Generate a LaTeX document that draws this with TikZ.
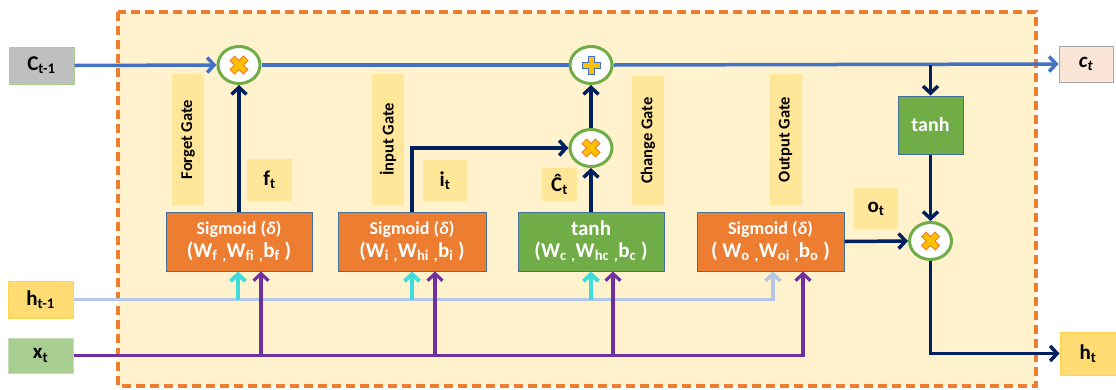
\documentclass[tikz,border=0pt]{standalone}
\usepackage{fontspec}
\setmainfont{Carlito}
\usetikzlibrary{arrows.meta,shapes.geometric}

\definecolor{frameC}{HTML}{ED7D31}
\definecolor{bgC}{HTML}{FFF2CC}
\definecolor{tagC}{HTML}{FFE699}
\definecolor{gateC}{HTML}{ED7D31}
\definecolor{gateB}{HTML}{41719C}
\definecolor{tanhC}{HTML}{70AD47}
\definecolor{navyC}{HTML}{002060}
\definecolor{cellC}{HTML}{4472C4}
\definecolor{hidC}{HTML}{B4C7E7}
\definecolor{cyC}{HTML}{3FDCDC}
\definecolor{purC}{HTML}{7030A0}
\definecolor{ringC}{HTML}{70AD47}
\definecolor{markC}{HTML}{FFC000}

\newcommand\sbs[1]{\textsubscript{#1}}
\newcommand\bigline{\fontsize{21}{23}\selectfont}

\tikzset{
  tip/.style={-{Straight Barb[length=7pt,width=15pt]}},
  frame/.style={draw=frameC, line width=3.5pt, dash pattern=on 9pt off 5pt, fill=bgC},
  gatebox/.style={draw=gateB, line width=1pt, fill=gateC, text=white, font=\bfseries\fontsize{18}{20}\selectfont,
    minimum width=146pt, minimum height=59pt, align=center, inner sep=0pt},
  tanhbox/.style={gatebox, fill=tanhC},
  tagbox/.style={fill=tagC, inner sep=0pt, font=\bfseries\fontsize{21}{23}\selectfont},
  gatetag/.style={fill=tagC, inner sep=0pt, minimum width=131pt, minimum height=32pt, rotate=90,
    font=\bfseries\fontsize{16.5}{18}\selectfont},
  iobox/.style={line width=1pt, inner sep=0pt, font=\bfseries\fontsize{21}{23}\selectfont},
  opring/.style={ellipse, draw=ringC, line width=3pt, fill=white, minimum width=42pt, minimum height=37pt, inner sep=0pt},
  cline/.style={draw=cellC, line width=3.5pt},
  nline/.style={draw=navyC, line width=3.5pt},
  hl/.style={draw=hidC, line width=3.5pt},
  cyl/.style={draw=cyC, line width=4pt},
  xl/.style={draw=purC, line width=3.2pt},
  crossmark/.pic={
    \filldraw[fill=markC, draw=frameC, line width=0.8pt, rotate=45]
      (3.2,9.5)--(3.2,3.2)--(9.5,3.2)--(9.5,-3.2)--(3.2,-3.2)--(3.2,-9.5)--(-3.2,-9.5)--(-3.2,-3.2)
      --(-9.5,-3.2)--(-9.5,3.2)--(-3.2,3.2)--(-3.2,9.5)--cycle;
  },
  plusmark/.pic={
    \filldraw[fill=markC, draw=cellC, line width=0.8pt]
      (3,9)--(3,3)--(9,3)--(9,-3)--(3,-3)--(3,-9)--(-3,-9)--(-3,-3)
      --(-9,-3)--(-9,3)--(-3,3)--(-3,9)--cycle;
  },
}

\begin{document}
\begin{tikzpicture}[x=1pt,y=-1pt]
\useasboundingbox (0,0) rectangle (1116,389);

% cell boundary
\draw[frame] (118,12) rectangle (1036,386);

% inputs and outputs
\node[iobox, draw=tanhC!60, fill=black!25, minimum width=65pt, minimum height=37pt] (cprev) at (41.5,65.5) {C\sbs{t-1}};
\node[iobox, draw=markC!70, fill=markC!55, minimum width=65pt, minimum height=37pt] (hprev) at (40.5,299.5) {h\sbs{t-1}};
\node[iobox, draw=tanhC!40, fill=tanhC!60, minimum width=65pt, minimum height=35pt] (xt) at (40.5,355.5) {x\sbs{t}};
\node[iobox, draw=black!35, fill=frameC!20, minimum width=54pt, minimum height=36pt] (ct) at (1086,64) {\textit{c\sbs{t}}};
\node[iobox, draw=markC!70, fill=markC!55, minimum width=56pt, minimum height=43pt] (ht) at (1088,353.5) {h\sbs{t}};

% gate labels
\node[gatetag] (lf) at (188,139.5) {Forget Gate};
\node[gatetag] (li) at (388,139.5) {İnput Gate};
\node[gatetag, minimum width=129pt] (lc) at (648,140.5) {Change Gate};
\node[gatetag] (lo) at (785.5,139.5) {Output Gate};

\node[tagbox, minimum width=45pt, minimum height=42pt] (tf) at (269.5,180) {f\sbs{t}};
\node[tagbox, minimum width=44pt, minimum height=41pt] (ti) at (445,180.5) {i\sbs{t}};
\node[tagbox, minimum width=35pt, minimum height=33pt] (tc) at (559.5,184.5) {\^{C}\sbs{t}};
\node[tagbox, minimum width=44pt, minimum height=41pt] (to) at (876,208.5) {o\sbs{t}};

% gate blocks
\node[gatebox] (fs) at (239,241.5) {Sigmoid (\textit{δ})\\[3pt]{\bigline (W\sbs{f} \sbs{,}W\sbs{fi} \sbs{,}b\sbs{f} )}};
\node[gatebox, minimum width=148pt] (is) at (412,241.5) {Sigmoid (\textit{δ})\\[3pt]{\bigline (W\sbs{i} \sbs{,}W\sbs{hi} \sbs{,}b\sbs{i} )}};
\node[tanhbox] (cs) at (591,241.5) {{\bigline tanh}\\[2pt]{\bigline (W\sbs{c} \sbs{,}W\sbs{hc} \sbs{,}b\sbs{c} )}};
\node[gatebox, minimum width=147pt] (os) at (770.5,241.5) {Sigmoid (\textit{δ})\\[3pt]{\bigline ( W\sbs{o} \sbs{,}W\sbs{oi} \sbs{,}b\sbs{o} )}};
\node[tanhbox, minimum width=65pt, minimum height=58pt, font=\bfseries\fontsize{20}{22}\selectfont] (th) at (930.5,125) {tanh};

% pointwise operators
\node[opring] (fc) at (239,65) {};
\node[opring] (pc) at (591,65) {};
\node[opring] (mc) at (591,148) {};
\node[opring] (om) at (930.5,241) {};
\pic at (fc) {crossmark};
\pic at (pc) {plusmark};
\pic at (mc) {crossmark};
\pic at (om) {crossmark};

% cell state
\draw[cline, tip] (cprev.east) -- (fc.west);
\draw[cline] (fc.east) -- (pc.west);
\draw[cline, tip] (pc.east) -- (ct.west);

% gate outputs
\draw[nline, tip] (fs.north) -- (fc.south);
\draw[nline, tip] (is.north) |- (mc.west);
\draw[nline, tip] (cs.north) -- (mc.south);
\draw[nline, tip] (mc.north) -- (pc.south);
\coordinate (tap) at (th.north |- pc);
\draw[nline, tip] (tap) -- (th.north);
\draw[nline, tip] (th.south) -- (om.north);
\draw[nline, tip] (os.east) -- (om.west);
\draw[nline, tip] (om.south) |- (ht.west);

% previous hidden state
\coordinate (fh) at ([xshift=-1pt]fs.south);
\coordinate (ih) at (is.south);
\coordinate (ch) at (cs.south);
\coordinate (oh) at ([xshift=2.5pt]os.south);
\draw[hl, tip] (hprev.east) -| (oh);
\draw[cyl, tip] (fh |- hprev) -- (fh);
\draw[cyl, tip] (ih |- hprev) -- (ih);
\draw[cyl, tip] (ch |- hprev) -- (ch);

% current input
\coordinate (fx) at ([xshift=22pt]fs.south);
\coordinate (ix) at ([xshift=23pt]is.south);
\coordinate (cx) at ([xshift=22pt]cs.south);
\coordinate (ox) at ([xshift=32.5pt]os.south);
\draw[xl, tip] (xt.east) -| (ox);
\draw[xl, tip] (fx |- xt) -- (fx);
\draw[xl, tip] (ix |- xt) -- (ix);
\draw[xl, tip] (cx |- xt) -- (cx);
\end{tikzpicture}
\end{document}
